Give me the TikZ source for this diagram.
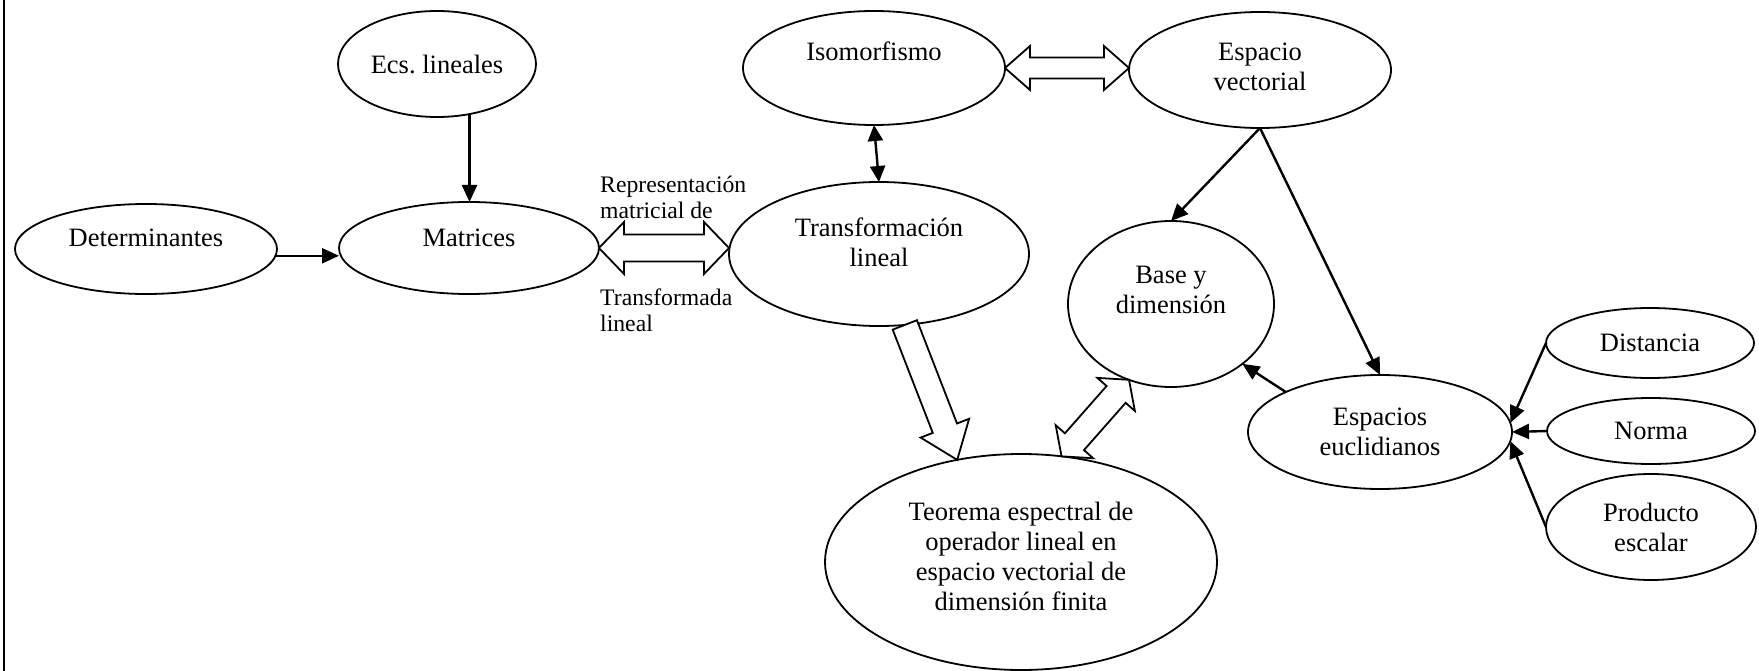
\documentclass[tikz,border=0pt]{standalone}
\usepackage{fontspec}
\setmainfont{Liberation Serif}
\frenchspacing
\usetikzlibrary{shapes.geometric,arrows.meta,calc}
% double block arrow: #1 tip A, #2 tip B, #3 head length, #4 shaft half width, #5 head half width
\newcommand\blockdbl[5]{%
 \draw[blk] (#1) -- ($(#1)!#3!(#2)!#5!90:(#2)$) -- ($(#1)!#3!(#2)!#4!90:(#2)$)
  -- ($(#2)!#3!(#1)!#4!-90:(#1)$) -- ($(#2)!#3!(#1)!#5!-90:(#1)$) -- (#2)
  -- ($(#2)!#3!(#1)!#5!90:(#1)$) -- ($(#2)!#3!(#1)!#4!90:(#1)$)
  -- ($(#1)!#3!(#2)!#4!-90:(#2)$) -- ($(#1)!#3!(#2)!#5!-90:(#2)$) -- cycle;}
% single block arrow: #1 tail centre, #2 tip
\newcommand\blocksgl[5]{%
 \draw[blk] ($(#1)!#4!90:(#2)$) -- ($(#2)!#3!(#1)!#4!-90:(#1)$) -- ($(#2)!#3!(#1)!#5!-90:(#1)$)
  -- (#2) -- ($(#2)!#3!(#1)!#5!90:(#1)$) -- ($(#2)!#3!(#1)!#4!90:(#1)$)
  -- ($(#1)!#4!-90:(#2)$) -- cycle;}
\begin{document}
\begin{tikzpicture}[x=1pt,y=-1pt,
 ell/.style={ellipse, draw, line width=1.8pt, inner sep=0pt, outer sep=0pt},
 txt/.style={font=\fontsize{26.5}{30}\selectfont, align=center, inner sep=0pt},
 lbl/.style={font=\fontsize{23.7}{26}\selectfont, align=left, inner sep=0pt},
 con/.style={line width=2.4pt, -{Triangle[length=17pt,width=15pt]}},
 con2/.style={line width=2.4pt, {Triangle[length=16pt,width=15pt]}-{Triangle[length=16pt,width=15pt]}},
 blk/.style={line width=1.8pt, fill=white, line join=miter}]
\useasboundingbox (0,0) rectangle (1759,671);
\draw[line width=2.4pt] (4,0) -- (4,671);

% ellipses
\node[ell, minimum width=198pt, minimum height=106pt] (ecs) at (437,64) {};
\node[ell, minimum width=262pt, minimum height=90pt] (det) at (146,249) {};
\node[ell, minimum width=260pt, minimum height=92pt] (mat) at (469,248) {};
\node[ell, minimum width=262pt, minimum height=114pt] (iso) at (874,68) {};
\node[ell, minimum width=262pt, minimum height=116pt] (ev) at (1260,70) {};
\node[ell, minimum width=300pt, minimum height=144pt] (trans) at (879,254) {};
\node[ell, minimum width=206pt, minimum height=166pt] (base) at (1171,304) {};
\node[ell, minimum width=264pt, minimum height=114pt] (ee) at (1380,432) {};
\node[ell, minimum width=392pt, minimum height=216pt] (teo) at (1021,562) {};
\node[ell, minimum width=208pt, minimum height=70pt] (dist) at (1650,343) {};
\node[ell, minimum width=208pt, minimum height=66pt] (norma) at (1651,431) {};
\node[ell, minimum width=210pt, minimum height=106pt] (prod) at (1651,527) {};

% texts
\node[txt] (tecs) at (ecs) {Ecs. lineales};
\node[txt] (tdet) at ($(det)+(0,-11)$) {Determinantes};
\node[txt] (tmat) at ($(mat)+(0,-10)$) {Matrices};
\node[txt] (tiso) at ($(iso)+(0,-17)$) {Isomorfismo};
\node[txt] (tev) at ($(ev)+(0,-3)$) {Espacio\\vectorial};
\node[txt] (ttrans) at ($(trans)+(0,-12)$) {Transformación\\lineal};
\node[txt] (tbase) at ($(base)+(0,-14)$) {Base y\\dimensión};
\node[txt] (tee) at (ee) {Espacios\\euclidianos};
\node[txt] (tteo) at ($(teo)+(0,-6)$) {Teorema espectral de\\operador lineal en\\espacio vectorial de\\dimensión finita};
\node[txt] (tdist) at (dist) {Distancia};
\node[txt] (tnorma) at (norma) {Norma};
\node[txt] (tprod) at (prod) {Producto\\escalar};

% plain connectors
\draw[con] (ecs.-57) -- (ecs.-57 |- mat.north);
\draw[con] (det.-3) -- (det.-3 -| mat.west);
\draw[con2] (iso.south) -- (trans.north);
\draw[con] (ev.south) -- (base.north);
\draw[con] (ev.south) -- (ee.north);
\draw[con] (ee.157) -- (base.-40);
\draw[con] (dist.west) -- (ee.4);
\draw[con] (norma.west) -- (ee.east);
\draw[con] (prod.west) -- (ee.-4);

% block arrows
\coordinate (mt1) at (mat.east);
\coordinate (mt2) at (mat.east -| trans.west);
\coordinate (ie1) at (iso.east);
\coordinate (ie2) at (iso.east -| ev.west);
\coordinate (tt1) at (trans.-70);
\coordinate (tt2) at (teo.122);
\coordinate (tb1) at (teo.69);
\coordinate (tb2) at (base.-119);
\blockdbl{mt1}{mt2}{25pt}{13.5pt}{26pt}
\blockdbl{ie1}{ie2}{25pt}{10.5pt}{22pt}
\blocksgl{tt1}{tt2}{34pt}{13pt}{26pt}
\blockdbl{tb1}{tb2}{19.5pt}{12.7pt}{25pt}

% labels
\node[lbl, anchor=west] (lrep) at ($(mt1)+(1,-51)$) {Representación\\matricial de};
\node[lbl, anchor=west] (ltra) at ($(mt1)+(1,62)$) {Transformada\\lineal};
\end{tikzpicture}
\end{document}
